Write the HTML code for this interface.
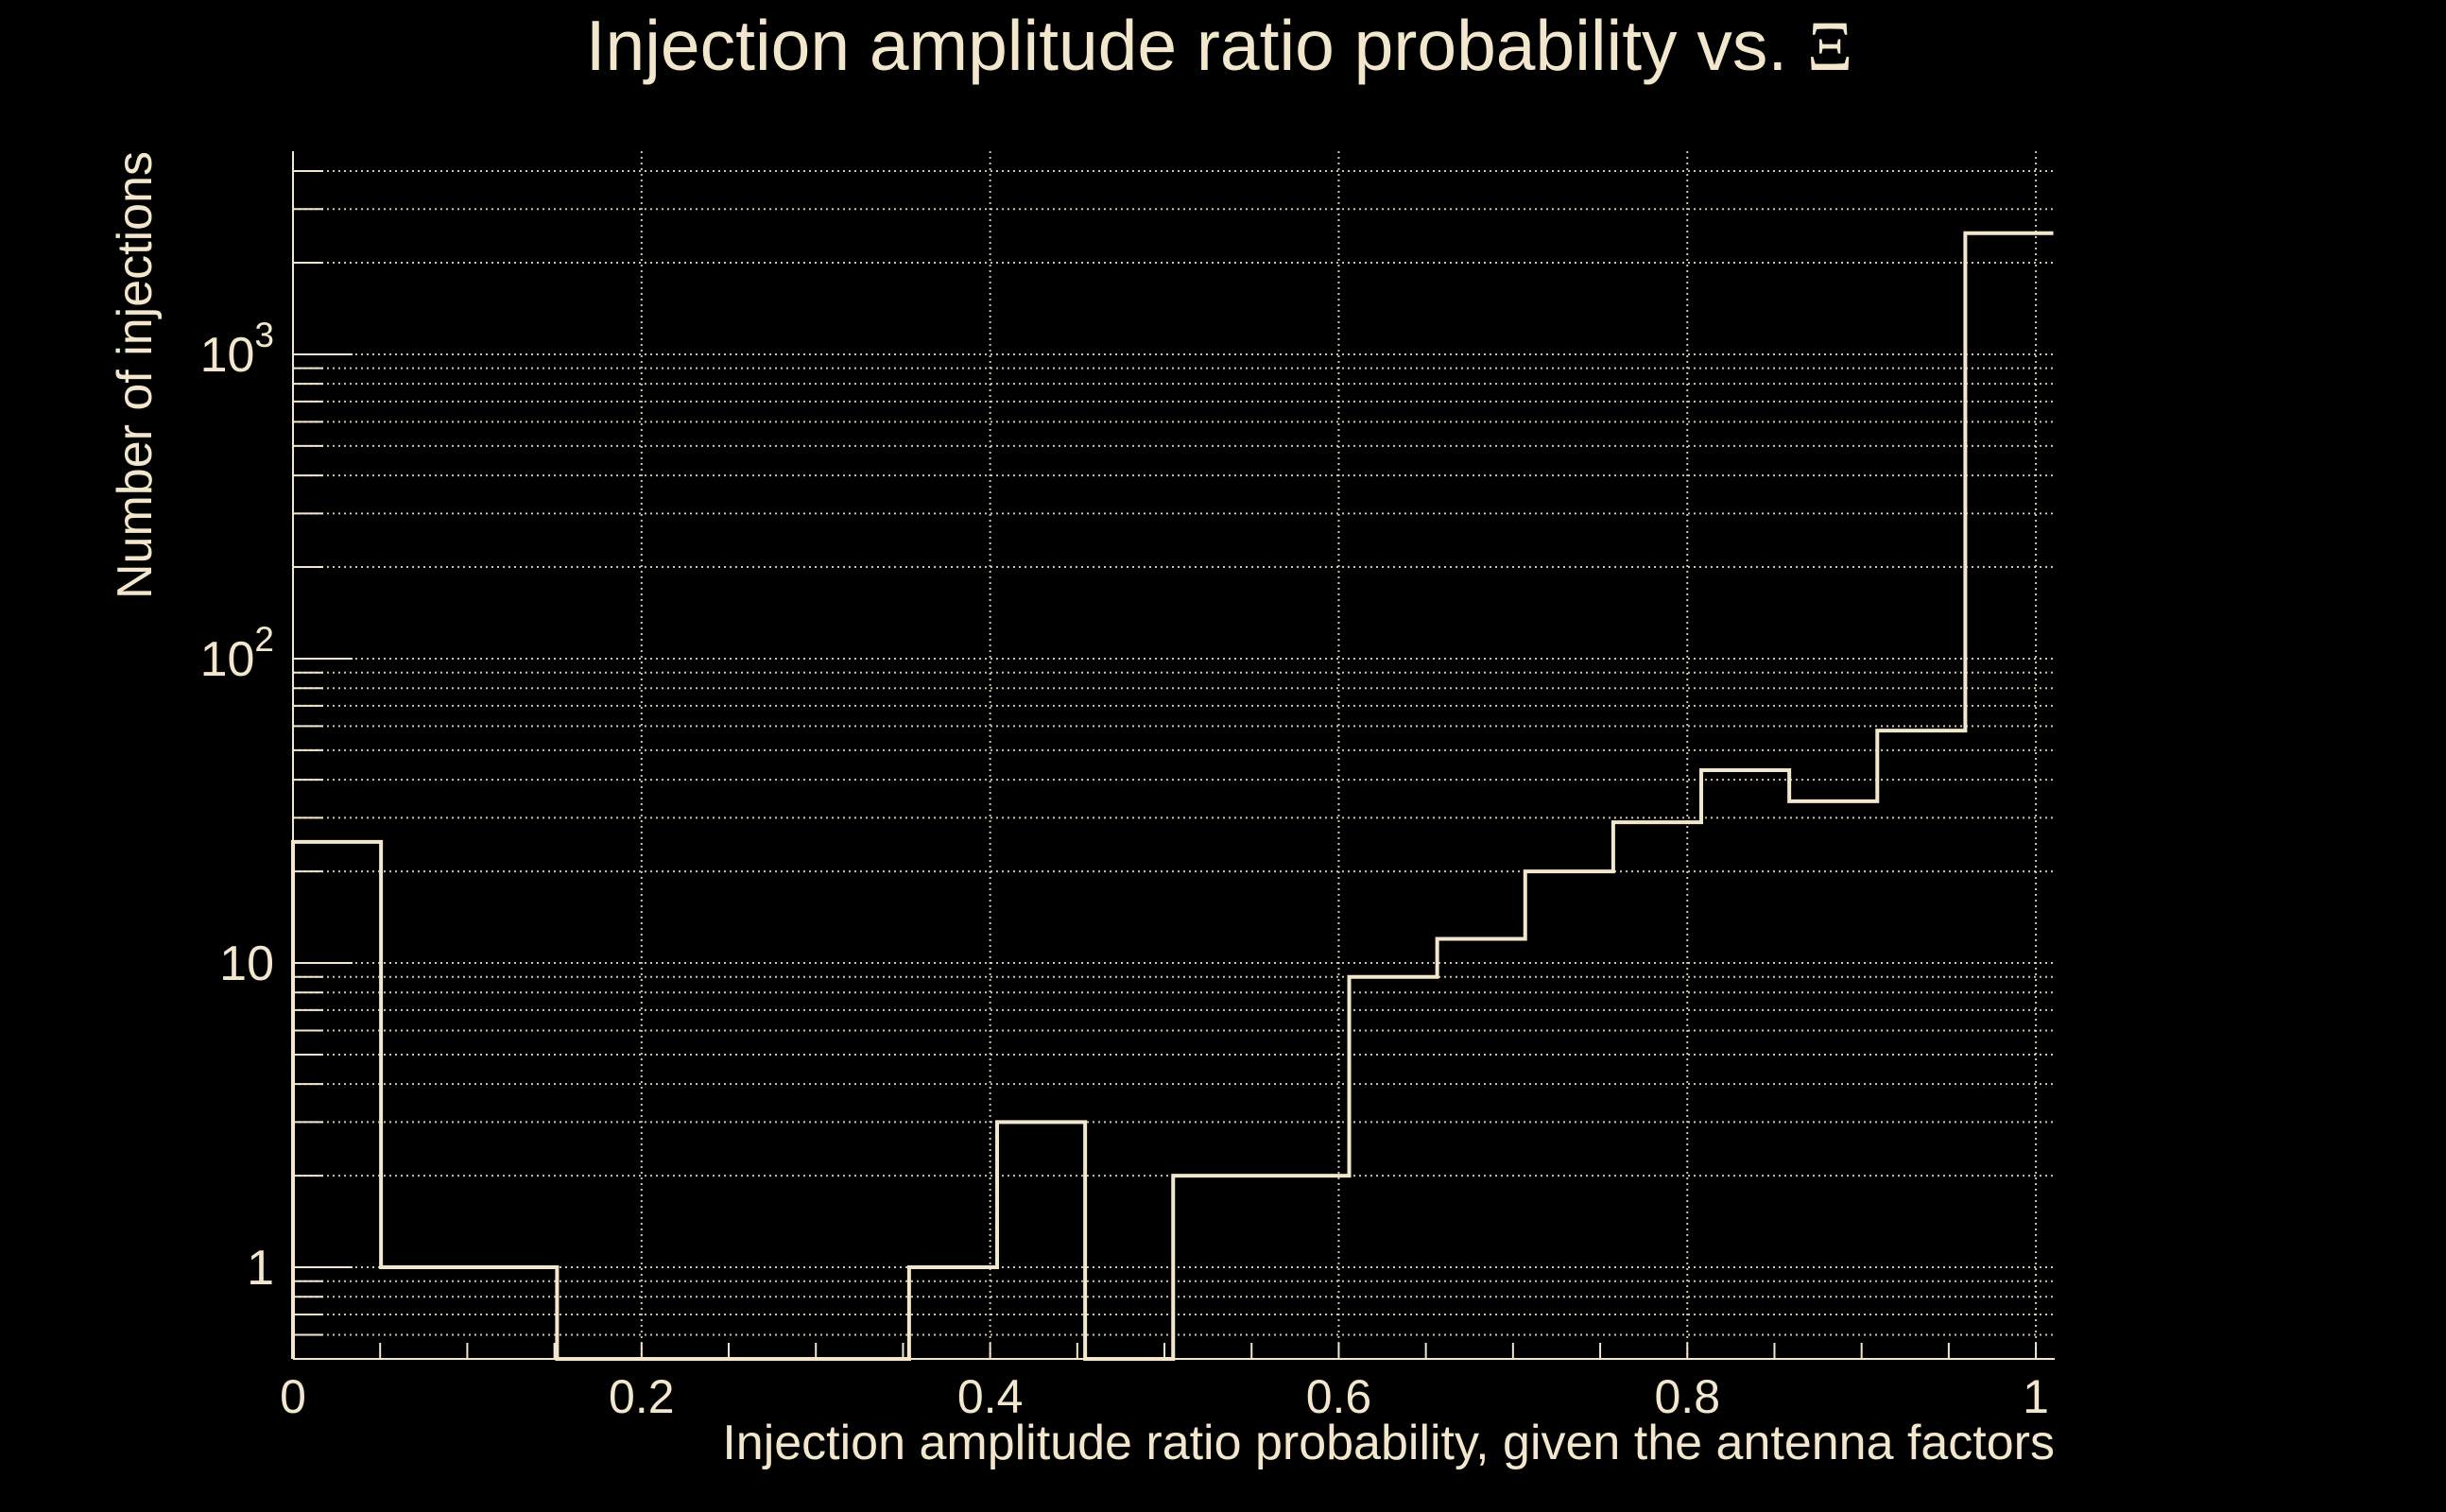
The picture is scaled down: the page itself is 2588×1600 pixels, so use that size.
<!DOCTYPE html>
<html><head><meta charset="utf-8"><style>
html,body{margin:0;padding:0;background:#000;}
svg{display:block;}
text{font-family:"Liberation Sans",sans-serif;fill:#f2e7cc;}
</style></head><body>
<svg id="chart" width="2588" height="1600" viewBox="0 0 2588 1600">
<rect width="2588" height="1600" fill="#000"/>
<g id="grid"></g>
<g id="axes"></g>
<g id="marks"></g>
<text x="1290" y="74" font-size="75" text-anchor="middle">Injection amplitude ratio probability vs. <tspan font-family="Liberation Serif, serif">Ξ</tspan></text>
<text x="2174" y="1544" font-size="52" text-anchor="end">Injection amplitude ratio probability, given the antenna factors</text>
<text transform="translate(160,160) rotate(-90)" font-size="52" text-anchor="end">Number of injections</text>
</svg>
<script>
const binEdgesStart = 0;
const binWidth = 0.0505;
const counts = [25, 1, 1, 0, 0, 0, 0, 1, 3, 0, 2, 2, 9, 12, 20, 29, 43, 34, 58, 2500];
const xTicks = [0, 0.2, 0.4, 0.6, 0.8, 1];
const xTickLabels = ["0", "0.2", "0.4", "0.6", "0.8", "1"];
const yDecades = [1, 10, 100, 1000];
const yDecadeLabels = [["1",""], ["10",""], ["10","2"], ["10","3"]];

const NS = "http://www.w3.org/2000/svg";
const L = 310, R = 2174, T = 160, B = 1438;
const xMin = 0, xMax = 1.0108;
const yMin = 0.5, yMax = 4650;
const col = "#f2e7cc";
function xs(v){ return L + (v - xMin) / (xMax - xMin) * (R - L); }
function ys(v){ const lv = Math.log10(Math.max(v, yMin)); return B - (lv - Math.log10(yMin)) / (Math.log10(yMax) - Math.log10(yMin)) * (B - T); }
function mk(tag, attrs, parent){ const e = document.createElementNS(NS, tag); for (const k in attrs) e.setAttribute(k, attrs[k]); parent.appendChild(e); return e; }

const grid = document.getElementById("grid");
const axes = document.getElementById("axes");
const marks = document.getElementById("marks");

for (let d = -1; d <= 3; d++) {
  for (let m = 1; m <= 9; m++) {
    const v = m * Math.pow(10, d);
    if (v < yMin || v > yMax) continue;
    const y = ys(v);
    const g = mk("line", {x1: L, x2: R, y1: y, y2: y, stroke: col, "stroke-width": 2, "stroke-dasharray": "2 4", opacity: 0.85}, grid);
    
    
    const t = mk("line", {x1: L, x2: L + (m === 1 ? 63 : 32), y1: y, y2: y, stroke: col, "stroke-width": 2}, axes);
    
    
  }
}
xTicks.forEach((v, i) => {
  if (v > 0) {
    const g = mk("line", {x1: xs(v), x2: xs(v), y1: T, y2: B, stroke: col, "stroke-width": 2, "stroke-dasharray": "2 4", opacity: 0.85}, grid);
    
    
  }
  const tx = mk("text", {x: xs(v), y: 1495, "font-size": 50, "text-anchor": "middle"}, axes);
  tx.textContent = xTickLabels[i];
  
  
});
for (let k = 1; k * 0.05 < xMax; k++) {
  const x = xs(k * 0.05);
  const t = mk("line", {x1: x, x2: x, y1: B, y2: B - 17, stroke: col, "stroke-width": 2}, axes);
  
  
}
yDecades.forEach((v, i) => {
  const tx = mk("text", {x: 290, y: ys(v) + 18, "font-size": 52, "text-anchor": "end"}, axes);
  tx.textContent = yDecadeLabels[i][0];
  if (yDecadeLabels[i][1]) {
    const sp = document.createElementNS(NS, "tspan");
    sp.setAttribute("dy", -26); sp.setAttribute("font-size", 37);
    sp.textContent = yDecadeLabels[i][1];
    tx.appendChild(sp);
  }
  
  
});
const ya = mk("line", {x1: L, x2: L, y1: T, y2: B, stroke: col, "stroke-width": 2}, axes);


const xa = mk("line", {x1: L, x2: R, y1: B, y2: B, stroke: col, "stroke-width": 2}, axes);



let d = "";
counts.forEach((c, i) => {
  const x0 = xs(binEdgesStart + i * binWidth), x1 = xs(binEdgesStart + (i + 1) * binWidth);
  const y = c > 0 ? ys(c) : B;
  d += (i === 0 ? "M" + x0 + "," + B + " L" + x0 + "," + y : " L" + x0 + "," + y) + " L" + x1 + "," + y;
});
const p = mk("path", {d: d, fill: "none", stroke: col, "stroke-width": 4}, marks);


</script>
</body></html>
